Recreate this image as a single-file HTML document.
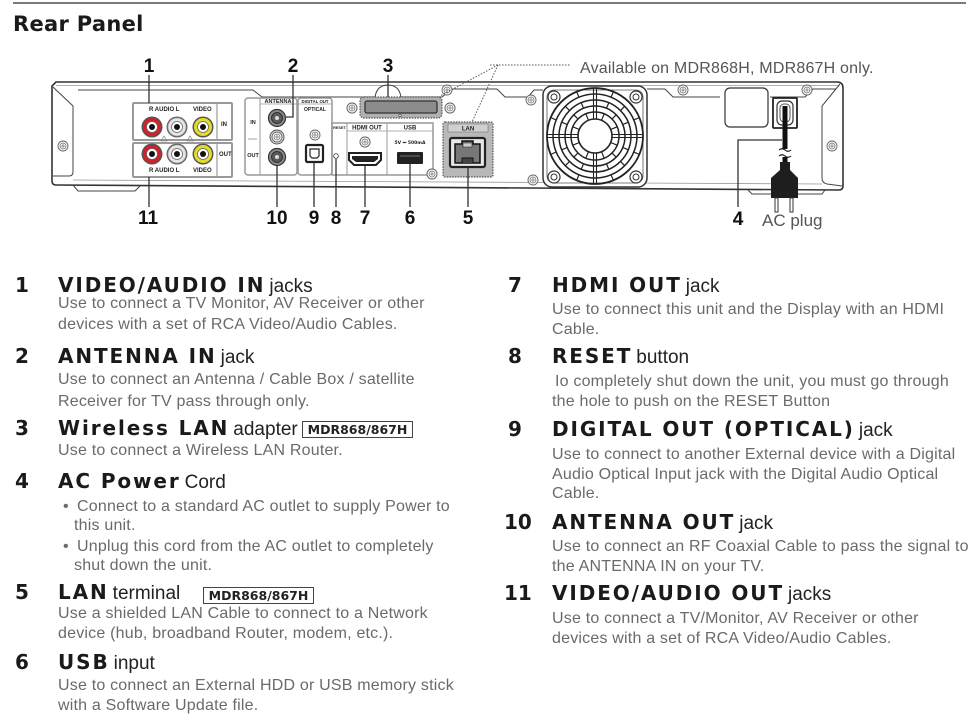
<!DOCTYPE html>
<html><head><meta charset="utf-8">
<style>
html,body{margin:0;padding:0;background:#fff;}
body{width:973px;height:721px;position:relative;overflow:hidden;}
.a{position:absolute;white-space:nowrap;}
.n{font-family:"DejaVu Sans",sans-serif;font-weight:bold;font-size:20px;line-height:22px;color:#1a1a1a;}
.h{font-family:"DejaVu Sans",sans-serif;font-weight:bold;font-size:20px;line-height:22px;color:#1a1a1a;letter-spacing:1.9px;}
.h span{font-family:"Liberation Sans",sans-serif;font-weight:normal;font-size:19px;letter-spacing:0;margin-left:4px;color:#222;}
.t{font-family:"Liberation Sans",sans-serif;font-size:16px;line-height:20px;color:#6a6a6a;letter-spacing:0.2px;}
.bx{position:absolute;border:1px solid #444;font-family:"DejaVu Sans",sans-serif;font-weight:bold;font-size:12.5px;line-height:15px;color:#222;width:109px;text-align:center;}
</style></head><body>

<svg class="a" style="left:0;top:0" width="973" height="240" viewBox="0 0 973 240">
<defs>
<g id="sc"><circle r="5" fill="#fff" stroke="#666" stroke-width="0.9"/><circle r="3" fill="none" stroke="#777" stroke-width="0.8"/><path d="M-2.2,0H2.2M0,-2.2V2.2" stroke="#777" stroke-width="0.8"/></g>
<g id="fs"><circle r="6" fill="#fff" stroke="#333" stroke-width="1.2"/><circle r="3" fill="none" stroke="#333" stroke-width="1"/></g>
</defs>
<line x1="13" y1="3" x2="966" y2="3" stroke="#7a7a7a" stroke-width="2"/>
<text x="13" y="31" font-family="DejaVu Sans" font-weight="bold" font-size="21" fill="#1a1a1a" letter-spacing="0.3">Rear Panel</text>

<path d="M56,82 H837 Q843,82 843,88 V186 Q843,190 839,190 L56,185 Q52,185 52,181 V86 Z" fill="#fff" stroke="#333" stroke-width="1.6"/>
<line x1="56" y1="85.5" x2="838" y2="85.5" stroke="#999" stroke-width="0.8"/>
<path d="M78,90 H253 L262,97 H375 Q377,85 388,85 Q399,85 401,97 H442 L452,89 H497 L505,97 H528 L534,90 H543" fill="none" stroke="#444" stroke-width="1"/>
<path d="M647,89 H665 L673,97 H720 M770,97 H805 L813,89 H836" fill="none" stroke="#444" stroke-width="1"/>
<path d="M53,87 L73,106 V172 Q73,176 69,176 H53" fill="none" stroke="#444" stroke-width="1"/>
<path d="M73,185 L78,191 H135 L140,186" fill="none" stroke="#444" stroke-width="1"/>
<path d="M840,84 L822,106 V178 Q822,183 827,184 L842,186" fill="none" stroke="#444" stroke-width="1"/>
<path d="M748,190 L752,194 H822 L825,190" fill="none" stroke="#444" stroke-width="1"/>
<line x1="73" y1="180" x2="822" y2="184" stroke="#999" stroke-width="0.8"/>

<use href="#sc" x="63" y="146"/><use href="#sc" x="352" y="108"/><use href="#sc" x="450" y="108"/>
<use href="#sc" x="447" y="90"/><use href="#sc" x="365" y="142"/><use href="#sc" x="432" y="174"/>
<use href="#sc" x="315" y="135"/><use href="#sc" x="683" y="90"/><use href="#sc" x="807" y="90"/>
<use href="#sc" x="832" y="146"/><use href="#sc" x="531" y="100"/><use href="#sc" x="533" y="180"/>

<g stroke="#999" stroke-width="2" fill="#fff">
<rect x="133" y="103" width="99" height="37" rx="1"/>
<rect x="133" y="143" width="99" height="34" rx="1"/>
</g>
<line x1="217" y1="103" x2="217" y2="140" stroke="#999" stroke-width="1.2"/>
<line x1="217" y1="143" x2="217" y2="177" stroke="#999" stroke-width="1.2"/>
<g font-family="Liberation Sans" font-weight="bold" font-size="6" fill="#222">
<text x="149" y="111">R AUDIO L</text><text x="193" y="111">VIDEO</text><text x="221" y="126">IN</text>
<text x="149" y="172">R AUDIO L</text><text x="193" y="172">VIDEO</text><text x="219" y="156">OUT</text>
</g>
<g>
<g transform="translate(152,127)"><circle r="10.5" fill="#555"/><circle r="9" fill="#d4202a"/><circle r="5.5" fill="#fff" stroke="#666" stroke-width=".8"/><circle r="3" fill="#111"/></g>
<g transform="translate(177,127)"><circle r="10.5" fill="#666"/><circle r="9" fill="#e6e6e6" stroke="#999" stroke-width=".6"/><circle r="5.5" fill="#fff" stroke="#666" stroke-width=".8"/><circle r="3" fill="#111"/></g>
<g transform="translate(203,127)"><circle r="10.5" fill="#555"/><circle r="9" fill="#e4dc2a"/><circle r="5.5" fill="#fff" stroke="#666" stroke-width=".8"/><circle r="3" fill="#111"/></g>
<g transform="translate(152,154)"><circle r="10.5" fill="#555"/><circle r="9" fill="#d4202a"/><circle r="5.5" fill="#fff" stroke="#666" stroke-width=".8"/><circle r="3" fill="#111"/></g>
<g transform="translate(177,154)"><circle r="10.5" fill="#666"/><circle r="9" fill="#e6e6e6" stroke="#999" stroke-width=".6"/><circle r="5.5" fill="#fff" stroke="#666" stroke-width=".8"/><circle r="3" fill="#111"/></g>
<g transform="translate(203,154)"><circle r="10.5" fill="#555"/><circle r="9" fill="#e4dc2a"/><circle r="5.5" fill="#fff" stroke="#666" stroke-width=".8"/><circle r="3" fill="#111"/></g>
</g>
<path d="M161,141 L164,136 L167,141 Z M187,141 L190,136 L193,141 Z" fill="none" stroke="#777" stroke-width=".6"/>

<rect x="245" y="98" width="52" height="77" rx="3" fill="#fff" stroke="#999" stroke-width="1.5"/>
<line x1="260" y1="98" x2="260" y2="175" stroke="#999" stroke-width="1"/>
<line x1="260" y1="104" x2="297" y2="104" stroke="#999" stroke-width=".8"/>
<g font-family="Liberation Sans" font-weight="bold" font-size="5.5" fill="#222" text-anchor="middle">
<text x="278" y="103">ANTENNA</text><text x="253" y="124">IN</text><text x="253" y="157">OUT</text>
</g>
<line x1="248" y1="139" x2="257" y2="139" stroke="#888" stroke-width=".8"/>
<g transform="translate(277,118)"><circle r="8.5" fill="#8a8a8a" stroke="#333" stroke-width="1.2"/><circle r="5.5" fill="#5a5a5a" stroke="#222" stroke-width=".8"/><circle r="2" fill="#ddd"/></g>
<g transform="translate(277,157)"><circle r="8.5" fill="#8a8a8a" stroke="#333" stroke-width="1.2"/><circle r="5.5" fill="#5a5a5a" stroke="#222" stroke-width=".8"/><circle r="2" fill="#ddd"/></g>
<circle cx="277" cy="137" r="7" fill="#ddd" stroke="#555" stroke-width="1"/><use href="#sc" x="277" y="137"/>

<rect x="298" y="98" width="34" height="77" rx="3" fill="#fff" stroke="#999" stroke-width="1.5"/>
<line x1="298" y1="104" x2="332" y2="104" stroke="#999" stroke-width=".8"/>
<g font-family="Liberation Sans" font-weight="bold" fill="#222" text-anchor="middle">
<text x="315" y="102.8" font-size="4.3">DIGITAL OUT</text><text x="315" y="111" font-size="5">OPTICAL</text>
</g>
<use href="#sc" x="315" y="135"/>
<rect x="306" y="145" width="17" height="17" rx="1.5" fill="#fff" stroke="#222" stroke-width="2.2"/>
<path d="M310,149 H319 V156 L317,158 H312 L310,156 Z" fill="#fff" stroke="#222" stroke-width="1.2"/>

<rect x="332" y="123" width="101" height="52" fill="none" stroke="#999" stroke-width="1.5"/>
<line x1="347" y1="123" x2="347" y2="175" stroke="#999" stroke-width="1"/>
<line x1="387" y1="123" x2="387" y2="175" stroke="#999" stroke-width="1"/>
<line x1="347" y1="131" x2="433" y2="131" stroke="#999" stroke-width=".8"/>
<g font-family="Liberation Sans" font-weight="bold" fill="#222" text-anchor="middle">
<text x="339.5" y="129" font-size="3.8">RESET</text>
<text x="367" y="129.5" font-size="6">HDMI OUT</text>
<text x="410" y="129.5" font-size="6">USB</text>
<text x="410" y="144" font-size="4.5" font-family="DejaVu Sans">5V ⎓ 500mA</text>
</g>
<circle cx="336" cy="156" r="2.3" fill="#fff" stroke="#444" stroke-width=".9"/>
<use href="#sc" x="365" y="142"/>
<path d="M349,153 H381 V160 L376,165 H354 L349,160 Z" fill="#fff" stroke="#222" stroke-width="2"/>
<path d="M352,156 H378 V159 L374,162 H356 L352,159 Z" fill="#222"/>
<rect x="397" y="152" width="26" height="12" rx="1" fill="#222"/>
<line x1="400" y1="156" x2="420" y2="156" stroke="#777" stroke-width="1"/>
<use href="#sc" x="432" y="174"/>

<rect x="360" y="97" width="82" height="21" rx="4" fill="#b0b0b0" stroke="#555" stroke-width="1.2" stroke-dasharray="1.5 1.2"/>
<rect x="365" y="101" width="72" height="12" rx="2" fill="#8c8c8c" stroke="#333" stroke-width="1.3"/>
<circle cx="400" cy="115.5" r="1.2" fill="#fff" stroke="#333" stroke-width=".6"/>
<use href="#sc" x="352" y="108"/><use href="#sc" x="450" y="108"/>

<rect x="443" y="122" width="50" height="55" rx="2" fill="#b8b8b8" stroke="#555" stroke-width="1.2" stroke-dasharray="1.5 1.2"/>
<rect x="448" y="124" width="40" height="8" fill="#d0d0d0" stroke="#777" stroke-width=".6"/>
<text x="468" y="130.5" font-family="Liberation Sans" font-weight="bold" font-size="6" fill="#222" text-anchor="middle">LAN</text>
<rect x="450" y="138" width="35" height="29" rx="2" fill="#e8e8e8" stroke="#222" stroke-width="2.2"/>
<path d="M455,144 H462 V141 H473 V144 H480 V163 H455 Z" fill="#777" stroke="#111" stroke-width="1.5"/>
<path d="M463,143 H472 V147 H463 Z" fill="#ccc" stroke="#222" stroke-width=".6"/>
<path d="M462,163 V158 H473 V163" fill="#444" stroke="#111" stroke-width="1"/>

<rect x="543" y="86" width="104" height="101" rx="9" fill="#fff" stroke="#333" stroke-width="1.5"/>
<rect x="547" y="90" width="96" height="93" rx="7" fill="none" stroke="#555" stroke-width=".8"/>
<use href="#fs" x="554" y="97"/><use href="#fs" x="636" y="97"/><use href="#fs" x="554" y="177"/><use href="#fs" x="636" y="177"/>
<g transform="translate(595,136)" fill="none" stroke="#222">
<circle r="48" stroke-width="1.8"/>
<circle r="42" stroke-width="1.5"/>
<circle r="36" stroke-width="1.5"/>
<circle r="30" stroke-width="1.5"/>
<circle r="24" stroke-width="1.5"/>
<circle r="17" stroke-width="1.6"/>
<path d="M-48,-1.5H-17M-48,1.5H-17M17,-1.5H48M17,1.5H48M-1.5,-48V-17M1.5,-48V-17M-1.5,17V48M1.5,17V48" stroke-width="1.1"/>
<g stroke-width="1.2">
<path d="M17,0H24M30,0H36M42,0H48" transform="rotate(22.5)"/>
<path d="M17,0H24M30,0H36M42,0H48" transform="rotate(67.5)"/>
<path d="M17,0H24M30,0H36M42,0H48" transform="rotate(112.5)"/>
<path d="M17,0H24M30,0H36M42,0H48" transform="rotate(157.5)"/>
<path d="M17,0H24M30,0H36M42,0H48" transform="rotate(202.5)"/>
<path d="M17,0H24M30,0H36M42,0H48" transform="rotate(247.5)"/>
<path d="M17,0H24M30,0H36M42,0H48" transform="rotate(292.5)"/>
<path d="M17,0H24M30,0H36M42,0H48" transform="rotate(337.5)"/>
<path d="M24,0H30M36,0H42" transform="rotate(45)"/>
<path d="M24,0H30M36,0H42" transform="rotate(135)"/>
<path d="M24,0H30M36,0H42" transform="rotate(225)"/>
<path d="M24,0H30M36,0H42" transform="rotate(315)"/>
</g>
</g>

<rect x="725" y="88" width="43" height="39" rx="5" fill="#fff" stroke="#333" stroke-width="1.2"/>
<rect x="773" y="98" width="24" height="30" rx="1" fill="#fff" stroke="#222" stroke-width="1.8"/>
<rect x="777" y="101" width="16" height="24" rx="5" fill="#fff" stroke="#333" stroke-width="1.2"/>
<rect x="780" y="104" width="10" height="18" rx="4" fill="none" stroke="#555" stroke-width="1"/>
<path d="M785,106 V149 M785,157 V164" stroke="#111" stroke-width="5"/>
<path d="M779,150 q3,-2.5 6,0 t6,0 M779,156 q3,-2.5 6,0 t6,0" stroke="#111" fill="none" stroke-width="1.1"/>
<path d="M780,162 H790 V170 L798,178 V198 H771 V178 L780,170 Z" fill="#1e1e1e"/>
<rect x="775" y="198" width="3" height="14" fill="#fff" stroke="#333" stroke-width="1"/>
<rect x="790" y="198" width="3" height="14" fill="#fff" stroke="#333" stroke-width="1"/>

<g fill="none" stroke="#333" stroke-width="1.3">
<path d="M149,75 V103"/><path d="M149,177 V207"/>
<path d="M293,75 V117 H286"/><path d="M388,75 V97"/>
<path d="M277,166 V207"/><path d="M314,163 V207"/><path d="M336,159 V207"/>
<path d="M365,166 V207"/><path d="M410,164 V207"/><path d="M468,167 V207"/>
<path d="M738,207 V140 H782"/>
</g>
<g fill="none" stroke="#555" stroke-width="1" stroke-dasharray="1.5 1.5">
<path d="M490,65 H570"/><path d="M498,65 L440,96"/><path d="M498,65 L472,122"/>
</g>

<g font-family="Liberation Sans" font-weight="bold" font-size="19" fill="#111" text-anchor="middle">
<text x="149" y="72">1</text><text x="293" y="72">2</text><text x="388" y="72">3</text>
<text x="148" y="224">11</text><text x="277" y="224">10</text><text x="314" y="224">9</text>
<text x="336" y="224">8</text><text x="365" y="224">7</text><text x="410" y="224">6</text>
<text x="468" y="224">5</text><text x="738" y="225">4</text>
</g>
<text x="762" y="226" font-family="Liberation Sans" font-size="17" fill="#555">AC plug</text>
<text x="580" y="73" font-family="Liberation Sans" font-size="16" fill="#555" letter-spacing="0.2">Available on MDR868H, MDR867H only.</text>
</svg>

<div class="a n" style="left:15px;top:274px">1</div>
<div class="a h" style="left:58px;top:274px">VIDEO/AUDIO IN<span>jacks</span></div>
<div class="a t" style="left:58px;top:294px">Use to connect a TV Monitor, AV Receiver or other</div>
<div class="a t" style="left:58px;top:315px">devices with a set of RCA Video/Audio Cables.</div>

<div class="a n" style="left:15px;top:345px">2</div>
<div class="a h" style="left:58px;top:345px">ANTENNA IN<span>jack</span></div>
<div class="a t" style="left:58px;top:370px">Use to connect an Antenna / Cable Box / satellite</div>
<div class="a t" style="left:58px;top:392px">Receiver for TV pass through only.</div>

<div class="a n" style="left:15px;top:417px">3</div>
<div class="a h" style="left:58px;top:417px">Wireless LAN<span>adapter</span></div>
<div class="bx" style="left:302px;top:421px">MDR868/867H</div>
<div class="a t" style="left:58px;top:441px">Use to connect a Wireless LAN Router.</div>

<div class="a n" style="left:15px;top:470px">4</div>
<div class="a h" style="left:58px;top:470px">AC Power<span>Cord</span></div>
<div class="a t" style="left:63px;top:497px">•</div>
<div class="a t" style="left:77px;top:497px">Connect to a standard AC outlet to supply Power to</div>
<div class="a t" style="left:74px;top:516px">this unit.</div>
<div class="a t" style="left:63px;top:537px">•</div>
<div class="a t" style="left:77px;top:537px">Unplug this cord from the AC outlet to completely</div>
<div class="a t" style="left:74px;top:556px">shut down the unit.</div>

<div class="a n" style="left:15px;top:581px">5</div>
<div class="a h" style="left:58px;top:581px">LAN<span>terminal</span></div>
<div class="bx" style="left:203px;top:587px">MDR868/867H</div>
<div class="a t" style="left:58px;top:604px">Use a shielded LAN Cable to connect to a Network</div>
<div class="a t" style="left:58px;top:624px">device (hub, broadband Router, modem, etc.).</div>

<div class="a n" style="left:15px;top:651px">6</div>
<div class="a h" style="left:58px;top:651px">USB<span>input</span></div>
<div class="a t" style="left:58px;top:676px">Use to connect an External HDD or USB memory stick</div>
<div class="a t" style="left:58px;top:696px">with a Software Update file.</div>

<div class="a n" style="left:508px;top:274px">7</div>
<div class="a h" style="left:552px;top:274px">HDMI OUT<span>jack</span></div>
<div class="a t" style="left:552px;top:300px">Use to connect this unit and the Display with an HDMI</div>
<div class="a t" style="left:552px;top:320px">Cable.</div>

<div class="a n" style="left:508px;top:345px">8</div>
<div class="a h" style="left:552px;top:345px">RESET<span>button</span></div>
<div class="a t" style="left:555px;top:372px">Io completely shut down the unit, you must go through</div>
<div class="a t" style="left:552px;top:392px">the hole to push on the RESET Button</div>

<div class="a n" style="left:508px;top:418px">9</div>
<div class="a h" style="left:552px;top:418px">DIGITAL OUT (OPTICAL)<span>jack</span></div>
<div class="a t" style="left:552px;top:445px">Use to connect to another External device with a Digital</div>
<div class="a t" style="left:552px;top:465px">Audio Optical Input jack with the Digital Audio Optical</div>
<div class="a t" style="left:552px;top:484px">Cable.</div>

<div class="a n" style="left:504px;top:511px">10</div>
<div class="a h" style="left:552px;top:511px">ANTENNA OUT<span>jack</span></div>
<div class="a t" style="left:552px;top:537px">Use to connect an RF Coaxial Cable to pass the signal to</div>
<div class="a t" style="left:552px;top:557px">the ANTENNA IN on your TV.</div>

<div class="a n" style="left:504px;top:582px">11</div>
<div class="a h" style="left:552px;top:582px">VIDEO/AUDIO OUT<span>jacks</span></div>
<div class="a t" style="left:552px;top:609px">Use to connect a TV/Monitor, AV Receiver or other</div>
<div class="a t" style="left:552px;top:629px">devices with a set of RCA Video/Audio Cables.</div>

</body></html>
